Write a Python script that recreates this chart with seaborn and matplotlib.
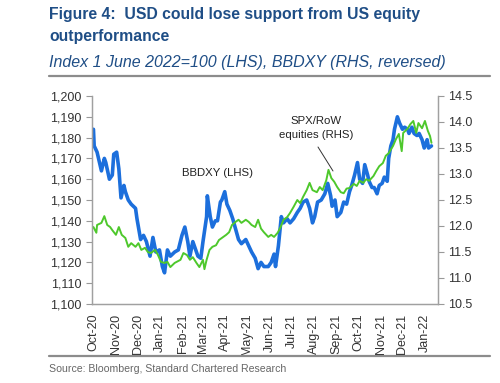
import numpy as np
import pandas as pd
import matplotlib
matplotlib.use("Agg")
import matplotlib.pyplot as plt
import matplotlib.dates as mdates
from matplotlib.ticker import FuncFormatter
import seaborn as sns

sns.set_style("white")
plt.rcParams['font.family'] = ['Liberation Sans', 'DejaVu Sans']

start = "2020-10-01"
# BBDXY (LHS): days since 1 Oct 2020 and index level
bbdxy_days = [0, 1, 5, 11, 15, 17, 22, 26, 28, 32, 35, 38, 42, 44, 48, 52, 58, 60, 65, 69,
              73, 78, 82, 86, 91, 95, 98, 102, 106, 112, 117, 122, 126, 130, 133, 137, 141, 144, 148, 151,
              156, 157, 161, 164, 168, 171, 175, 177, 181, 184, 188, 192, 196, 200, 204, 210, 214, 218, 223, 227,
              231, 235, 241, 245, 249, 251, 255, 259, 262, 267, 271, 276, 281, 285, 289, 294, 298, 302, 305, 309,
              314, 319, 323, 327, 329, 333, 336, 341, 345, 349, 353, 356, 360, 364, 367, 371, 374, 378, 380, 384,
              387, 391, 394, 398, 401, 405, 407, 410, 413, 415, 419, 422, 426, 429, 433, 435, 439, 442, 446, 449,
              453, 456, 460, 462, 466]
bbdxy = [1184, 1176, 1173, 1164, 1170, 1168, 1160, 1162, 1172, 1173, 1165, 1151, 1157, 1154, 1150, 1148, 1146, 1141, 1131, 1133,
         1130, 1123, 1132, 1125, 1126, 1118, 1115, 1126, 1123, 1125, 1126, 1133, 1137, 1130, 1123, 1130, 1126, 1123, 1122, 1130,
         1142, 1152, 1142, 1137, 1140, 1140, 1149, 1150, 1154, 1148, 1145, 1141, 1136, 1131, 1129, 1131, 1128, 1125, 1122, 1117,
         1120, 1118, 1118, 1120, 1124, 1118, 1128, 1142, 1139, 1141, 1139, 1141, 1144, 1146, 1149, 1150, 1146, 1139, 1142, 1149,
         1150, 1153, 1158, 1152, 1147, 1150, 1142, 1144, 1149, 1148, 1154, 1157, 1162, 1168, 1160, 1158, 1167, 1162, 1159, 1156,
         1156, 1153, 1157, 1158, 1161, 1159, 1170, 1176, 1179, 1184, 1190, 1187, 1184, 1185, 1184, 1182, 1185, 1182, 1181, 1182,
         1179, 1175, 1179, 1175, 1176]

# SPX/RoW equities (RHS)
spx_days = [0, 4, 5, 11, 15, 19, 23, 26, 31, 35, 39, 44, 48, 52, 58, 62, 66, 71, 75, 79,
            85, 89, 93, 98, 102, 106, 112, 120, 124, 129, 133, 137, 142, 146, 151, 153, 156, 160, 164, 169,
            173, 177, 183, 187, 191, 196, 200, 204, 210, 214, 218, 223, 227, 231, 235, 241, 245, 249, 254, 258,
            262, 267, 271, 276, 281, 285, 289, 294, 298, 302, 308, 312, 316, 321, 324, 328, 332, 336, 341, 345,
            349, 353, 359, 363, 367, 372, 376, 380, 386, 390, 394, 399, 403, 407, 413, 417, 421, 425, 427, 433,
            437, 441, 445, 448, 453, 457, 461, 464, 466]
spx_row = [11.98, 11.87, 12.02, 12.06, 12.19, 12.02, 11.98, 11.92, 11.83, 11.98, 11.83, 11.77, 11.60, 11.67, 11.60, 11.67, 11.54, 11.58, 11.50, 11.48,
           11.54, 11.44, 11.31, 11.29, 11.31, 11.21, 11.29, 11.35, 11.48, 11.44, 11.35, 11.40, 11.29, 11.21, 11.35, 11.17, 11.35, 11.54, 11.60, 11.63,
           11.73, 11.77, 11.83, 11.88, 12.02, 12.08, 12.12, 12.06, 12.12, 12.08, 12.02, 11.98, 12.12, 11.95, 11.88, 11.79, 11.83, 11.79, 11.87, 11.98,
           12.12, 12.17, 12.25, 12.37, 12.50, 12.44, 12.56, 12.69, 12.83, 12.69, 12.65, 12.75, 12.69, 12.88, 13.08, 12.92, 12.85, 12.75, 12.65, 12.63,
           12.72, 12.73, 12.81, 12.77, 12.87, 12.83, 12.90, 12.87, 12.96, 13.06, 13.15, 13.21, 13.35, 13.40, 13.54, 13.67, 13.77, 13.44, 13.79, 13.87,
           13.96, 14.02, 13.79, 13.98, 13.88, 14.02, 13.83, 13.73, 13.60]

df_b = pd.DataFrame({"date": pd.Timestamp(start) + pd.to_timedelta(bbdxy_days, unit="D"),
                     "value": bbdxy})
df_s = pd.DataFrame({"date": pd.Timestamp(start) + pd.to_timedelta(spx_days, unit="D"),
                     "value": spx_row})

left_ticks = list(range(1100, 1201, 10))
right_ticks = [10.5, 11.0, 11.5, 12.0, 12.5, 13.0, 13.5, 14.0, 14.5]
month_ticks = pd.date_range("2020-10-01", "2022-01-01", freq="MS")

fig = plt.figure(figsize=(5.0, 3.83), dpi=100)
ax = fig.add_axes([92/500, 1 - 304/383, (438 - 92)/500, (304 - 96)/383])
ax2 = ax.twinx()

sns.lineplot(data=df_b, x="date", y="value", ax=ax, color="#1C6FDC", lw=2.6)
sns.lineplot(data=df_s, x="date", y="value", ax=ax2, color="#4EC82C", lw=1.4)

ax.set_ylim(1100, 1200)
ax.set_yticks(left_ticks)
ax.yaxis.set_major_formatter(FuncFormatter(lambda v, p: f"{int(round(v)):,}"))
ax2.set_ylim(10.5, 14.5)
ax2.set_yticks(right_ticks)
ax2.yaxis.set_major_formatter(FuncFormatter(lambda v, p: f"{v:.1f}"))

ax.set_xlim(pd.Timestamp("2020-09-29"), pd.Timestamp("2022-01-19"))
ax.set_xticks(month_ticks)
ax.xaxis.set_major_formatter(mdates.DateFormatter("%b-%y"))
for lab in ax.get_xticklabels():
    lab.set_rotation(90)

tc = "#333333"
for a in (ax, ax2):
    a.set_xlabel("")
    a.set_ylabel("")
    a.tick_params(axis="both", labelsize=9, colors=tc, length=4, width=0.8,
                  color="#999999", direction="out")
    a.spines["top"].set_visible(False)
    for s in ("left", "right", "bottom"):
        a.spines[s].set_color("#A0A0A0")
        a.spines[s].set_linewidth(0.9)
    a.grid(False)
ax.tick_params(axis="x", pad=3)

fig.text(182/500, 1 - 173/383, "BBDXY (LHS)", fontsize=8.2, color="#222222",
         ha="left", va="center")
fig.text(316/500, 1 - 128.5/383, "SPX/RoW\nequities (RHS)", fontsize=8.2,
         color="#222222", ha="center", va="center", linespacing=1.5)
fig.add_artist(plt.Line2D([318/500, 333/500], [1 - 147/383, 1 - 171/383],
                          color="#333333", lw=0.7))

title_c = "#1F4E86"
fig.text(49/500, 1 - 14/383, "Figure 4:  USD could lose support from US equity",
         fontsize=11.3, fontweight="bold", color=title_c, ha="left", va="center")
fig.text(49/500, 1 - 37/383, "outperformance", fontsize=11.3, fontweight="bold",
         color=title_c, ha="left", va="center")
fig.text(49/500, 1 - 62/383, "Index 1 June 2022=100 (LHS), BBDXY (RHS, reversed)",
         fontsize=11.5, style="italic", color=title_c, ha="left", va="center")
fig.add_artist(plt.Line2D([49/500, 490/500], [1 - 76/383, 1 - 76/383],
                          color="#8C8C8C", lw=1.6))
fig.add_artist(plt.Line2D([49/500, 490/500], [1 - 356/383, 1 - 356/383],
                          color="#8C8C8C", lw=1.6))
fig.text(49/500, 1 - 369/383, "Source: Bloomberg, Standard Chartered Research",
         fontsize=7.6, color="#666666", ha="left", va="center")

fig.savefig("out.png", dpi=100)
